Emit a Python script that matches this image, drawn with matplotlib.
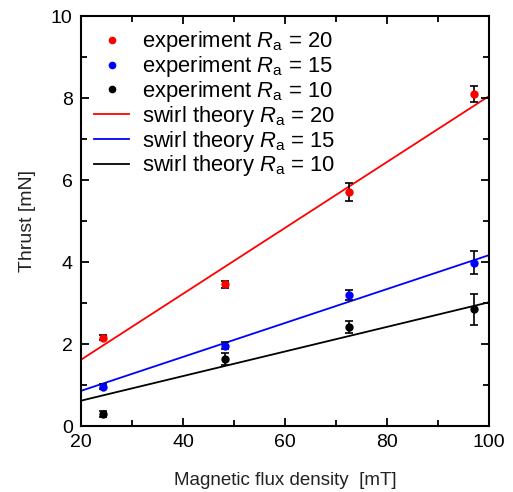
import matplotlib
matplotlib.use("Agg")
import matplotlib.pyplot as plt
from matplotlib.ticker import MultipleLocator

plt.rcParams['font.family'] = ['Liberation Sans', 'DejaVu Sans']
plt.rcParams['mathtext.fontset'] = 'custom'
plt.rcParams['mathtext.it'] = 'Liberation Sans:italic'
plt.rcParams['mathtext.rm'] = 'Liberation Sans'

# Data
B = [24.3, 48.3, 72.5, 97.0]
exp_20 = [2.16, 3.46, 5.71, 8.10]
err_20 = [0.07, 0.08, 0.23, 0.20]
exp_15 = [0.96, 1.96, 3.20, 3.99]
err_15 = [0.06, 0.09, 0.13, 0.29]
exp_10 = [0.29, 1.63, 2.42, 2.85]
err_10 = [0.08, 0.15, 0.15, 0.38]

theory_B = [20, 100]
theory_20 = [1.62, 8.05]
theory_15 = [0.86, 4.17]
theory_10 = [0.62, 3.02]

fig = plt.figure(figsize=(5.13, 4.92), dpi=100)
ax = fig.add_axes([0.158, 0.134, 0.795, 0.833])

lab = r'$R_\mathrm{a}$'
for y, e, c, r in [(exp_20, err_20, 'red', 20), (exp_15, err_15, 'blue', 15), (exp_10, err_10, 'black', 10)]:
    ax.errorbar(B, y, yerr=e, fmt='none', ecolor='black', elinewidth=1.2, capsize=3, capthick=1.2, zorder=2)
    ax.plot(B, y, 'o', color=c, markersize=5, zorder=3, linestyle='none',
            label='experiment ' + lab + ' = %d' % r)
for y, c, r in [(theory_20, 'red', 20), (theory_15, 'blue', 15), (theory_10, 'black', 10)]:
    ax.plot(theory_B, y, '-', color=c, linewidth=1.3, label='swirl theory ' + lab + ' = %d' % r, zorder=1)

ax.set_xlim(20, 100)
ax.set_ylim(0, 10)
ax.xaxis.set_major_locator(MultipleLocator(20))
ax.xaxis.set_minor_locator(MultipleLocator(10))
ax.yaxis.set_major_locator(MultipleLocator(2))
ax.yaxis.set_minor_locator(MultipleLocator(1))
ax.tick_params(which='both', direction='in', top=True, right=True, labelsize=14, width=1.3)
ax.tick_params(which='major', length=6, pad=6)
ax.tick_params(which='minor', length=4)
for s in ax.spines.values():
    s.set_linewidth(1.5)

ax.set_xlabel('Magnetic flux density  [mT]', fontsize=13.5, labelpad=15, color='#222222')
ax.set_ylabel('Thrust [mN]', fontsize=14, labelpad=11, color='#222222')

ax.legend(loc='upper left', frameon=False, fontsize=15.8, handlelength=1.6,
          borderaxespad=0.2, labelspacing=-0.01, handletextpad=0.6, markerscale=0.9,
          bbox_to_anchor=(0.0, 1.0))

fig.savefig('out.png', dpi=100)
